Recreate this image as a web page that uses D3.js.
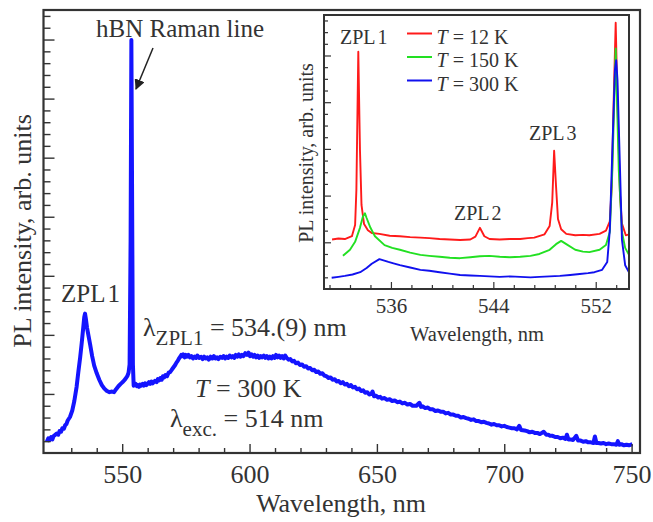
<!DOCTYPE html>
<html>
<head>
<meta charset="utf-8">
<script src="https://cdn.jsdelivr.net/npm/d3@7"></script>
<style>
  body { margin: 0; background: #fff; }
  svg text { font-family: "Liberation Serif", "Times New Roman", serif; fill: #333; }
</style>
</head>
<body>
<svg id="chart" width="653" height="522"></svg>
<script>
// main spectrum, T = 300 K, wavelength (nm) / intensity (arb.)
var mainSpectrum = [
  [520.4,0.19],[521.0,0.25],[521.5,0.22],[522.1,0.27],[522.6,0.23],[523.1,0.29],[523.5,0.30],[524.3,0.33],
  [524.9,0.31],[525.4,0.37],[526.0,0.36],[526.5,0.42],[527.1,0.41],[527.6,0.47],[528.1,0.49],[528.6,0.55],
  [529.5,0.61],[530.4,0.72],[531.2,0.88],[532.1,1.12],[532.8,1.38],[533.5,1.62],[534.1,1.86],
  [534.7,2.12],[535.1,2.30],[535.4,2.36],[535.7,2.28],[536.2,2.12],[536.8,1.98],[537.4,1.84],[538.2,1.64],
  [539.0,1.48],[540.0,1.35],[541.0,1.24],[542.0,1.15],[543.0,1.09],[544.0,1.05],[545.0,1.03],[546.0,1.04],
  [546.8,1.03],[547.6,1.08],[548.5,1.13],[549.4,1.17],[550.4,1.21],[551.2,1.25],[552.0,1.30],[552.5,1.36],
  [552.9,1.50],[553.3,3.6],[553.6,6.99],[553.9,4.2],[554.2,1.5],[554.5,1.14],[555.3,1.17],[555.8,1.13],
  [556.2,1.15],[556.6,1.12],[557.0,1.16],[557.5,1.14],[558.0,1.17],[558.5,1.14],[559.0,1.18],[559.5,1.15],
  [560.0,1.17],[560.5,1.20],[561.0,1.17],[561.5,1.21],[562.0,1.18],[562.8,1.22],[563.5,1.20],[564.0,1.25],
  [564.5,1.23],[565.0,1.27],[565.5,1.24],[566.0,1.30],[566.5,1.28],[567.0,1.32],[567.6,1.30],[568.2,1.36],
  [568.8,1.37],[569.3,1.40],[569.8,1.43],[570.3,1.46],[570.8,1.49],[571.3,1.53],[571.8,1.56],[572.3,1.60],
  [572.8,1.63],[573.2,1.66],[573.6,1.64],[574.0,1.67],[574.5,1.62],[575.0,1.66],[575.5,1.63],[576.0,1.66],
  [576.6,1.62],[577.2,1.64],[577.8,1.60],[578.4,1.63],[579.0,1.61],[579.5,1.65],[580.2,1.61],[581,1.63],
  [581.6,1.59],[582.2,1.63],[582.8,1.60],[583.4,1.62],[584,1.58],[584.7,1.63],[585.4,1.60],[586.0,1.64],
  [586.6,1.60],[587.2,1.62],[587.8,1.59],[588.5,1.63],[589.2,1.61],[589.8,1.64],[590.4,1.60],[591.0,1.63],
  [591.6,1.61],[592.2,1.65],[592.8,1.62],[593.4,1.64],[594.0,1.61],[594.6,1.66],[595.2,1.63],[595.8,1.67],
  [596.4,1.63],[597.0,1.66],[597.6,1.64],[598.3,1.69],[599.0,1.66],[599.6,1.70],[600.2,1.64],[600.8,1.67],
  [601.4,1.63],[602.0,1.66],[602.6,1.62],[603.2,1.65],[603.8,1.61],[604.4,1.64],[605.0,1.62],[605.6,1.65],
  [606.2,1.61],[606.8,1.64],[607.4,1.60],[608.0,1.63],[608.6,1.60],[609.2,1.64],[609.8,1.61],[610.4,1.66],
  [611.0,1.62],[611.6,1.65],[612.2,1.61],[612.8,1.64],[613.4,1.60],[614.0,1.65],[614.6,1.61],[615.3,1.58],
  [616.0,1.59],[616.8,1.55],[617.5,1.56],[618.2,1.52],[619.0,1.53],[619.8,1.49],[620.6,1.50],[621.4,1.46],
  [622.2,1.47],[623.0,1.43],[623.8,1.44],[624.6,1.40],[625.4,1.41],[626.2,1.37],[627.0,1.38],[627.8,1.34],
  [628.6,1.35],[629.4,1.31],[630.2,1.30],[631.0,1.27],[631.8,1.28],[632.6,1.24],[633.4,1.25],[634.2,1.21],
  [635.0,1.22],[635.8,1.18],[636.6,1.20],[637.4,1.16],[638.2,1.17],[639.0,1.13],[639.8,1.15],[640.6,1.11],
  [641.4,1.12],[642.2,1.08],[643.0,1.09],[643.8,1.05],[644.6,1.06],[645.4,1.02],[646.2,1.03],[647,0.99],
  [647.8,1.00],[648.3,1.04],[648.9,0.96],[649.7,0.97],[650.5,0.94],[651.3,0.95],[652,0.92],[653,0.93],
  [654,0.90],[655,0.91],[656,0.88],[657,0.89],[658,0.86],[659,0.87],[660,0.84],[661,0.85],[662,0.82],
  [663,0.83],[664,0.80],[665.5,0.80],[666.7,0.85],[667.3,0.78],[668,0.79],[669,0.76],[670,0.77],
  [671,0.74],[672,0.74],[673,0.71],[674,0.72],[675,0.70],[676,0.70],[677,0.67],[678,0.68],[679,0.65],
  [680,0.65],[681,0.63],[682,0.63],[683,0.60],[684,0.61],[685,0.59],[686,0.58],[687,0.56],[688,0.57],
  [689,0.54],[690,0.54],[691,0.52],[692,0.53],[693,0.51],[694,0.50],[695,0.48],[696,0.49],[697,0.47],
  [698,0.47],[699,0.45],[700,0.46],[701,0.44],[702,0.43],[703,0.42],[704,0.42],[705,0.40],[705.9,0.46],
  [706.6,0.39],[708,0.38],[709,0.37],[710,0.35],[711,0.36],[712,0.34],[713,0.34],[714,0.32],[715.5,0.36],
  [716.5,0.31],[717.3,0.31],[718,0.29],[719,0.29],[720,0.27],[721,0.27],[722,0.25],[723,0.26],[724,0.24],
  [724.6,0.31],[725.2,0.23],[726,0.23],[727,0.22],[728.3,0.29],[729,0.21],[730,0.21],[731,0.19],[732,0.20],
  [733,0.18],[734,0.18],[735,0.17],[735.6,0.28],[736.2,0.17],[737,0.17],[738,0.16],[739,0.17],[740,0.15],
  [741,0.16],[742,0.15],[743,0.15],[744,0.14],[744.6,0.20],[745.2,0.14],[746,0.15],[747,0.13],[748,0.14],
  [749,0.13],[750.3,0.15]
];

// inset spectra
var inset12K = [
  [531.4,1.06],[531.9,1.08],[532.4,1.07],[532.95,1.13],[533.2,1.37],[533.3,2.12],[533.45,5.08],[533.58,2.98],
  [533.7,1.80],[533.9,1.39],[534.2,1.26],[534.5,1.20],[535.1,1.18],[535.9,1.14],[536.7,1.13],[537.5,1.11],
  [538.3,1.10],[539.0,1.09],[539.8,1.07],[540.6,1.06],[541.4,1.05],[542.2,1.06],[542.6,1.12],[542.95,1.31],
  [543.3,1.13],[543.7,1.07],[544.5,1.06],[545.3,1.07],[546.1,1.07],[546.7,1.09],[547.2,1.10],[548.0,1.17],
  [548.4,1.35],[548.6,1.85],[548.75,2.96],[548.9,2.2],[549.05,1.5],[549.3,1.28],[549.7,1.18],[550.4,1.15],
  [551.0,1.16],[551.5,1.15],[552.3,1.18],[552.8,1.25],[553.1,1.45],[553.25,2.2],[553.4,4.0],[553.56,5.70],
  [553.7,4.0],[553.9,2.0],[554.05,1.4],[554.35,1.15],[554.6,1.17]
];
var inset150K = [
  [532.25,0.71],[532.8,0.84],[533.2,1.01],[533.58,1.31],[533.8,1.54],[533.97,1.62],[534.1,1.52],[534.4,1.31],
  [534.75,1.13],[535.5,0.94],[536.1,0.88],[536.7,0.84],[537.5,0.78],[538.3,0.73],[539.0,0.71],[539.8,0.69],
  [540.6,0.67],[541.4,0.66],[542.2,0.68],[542.95,0.70],[543.7,0.71],[544.5,0.69],[545.3,0.68],[546.1,0.69],
  [546.9,0.71],[547.6,0.75],[548.4,0.84],[548.9,0.96],[549.3,1.03],[549.7,0.96],[550.4,0.84],[551.0,0.80],
  [551.5,0.79],[552.3,0.84],[552.8,0.94],[553.1,1.22],[553.3,2.55],[553.56,5.15],[553.8,2.55],[554.05,1.22],
  [554.3,0.88],[554.6,0.73]
];
var inset300K = [
  [531.37,0.24],[531.9,0.26],[532.4,0.28],[533.0,0.31],[533.6,0.36],[534.1,0.45],[534.5,0.54],[535.1,0.64],
  [535.8,0.58],[536.2,0.55],[536.7,0.51],[537.5,0.46],[538.3,0.41],[539.0,0.39],[539.8,0.36],[540.6,0.33],
  [541.4,0.30],[542.2,0.29],[542.95,0.28],[543.7,0.27],[544.5,0.26],[545.3,0.27],[546.1,0.26],[546.9,0.25],
  [547.6,0.26],[548.4,0.27],[549.2,0.28],[550.0,0.30],[550.75,0.32],[551.4,0.34],[551.9,0.36],[552.5,0.41],
  [552.9,0.58],[553.1,1.26],[553.3,2.98],[553.5,4.69],[553.6,4.90],[553.7,4.48],[553.9,2.55],[554.05,1.05],
  [554.3,0.51],[554.6,0.36]
];

var legendLabels = [" = 12 K", " = 150 K", " = 300 K"];
var legendColors = ["#ff1a1a", "#22e022", "#1010ee"];

var mainXTicks = [550, 600, 650, 700, 750];
var insetXTicks = [536, 544, 552];

var svg = d3.select("#chart");

// ---------- main plot ----------
var x = d3.scaleLinear().domain([519.1, 753.3]).range([43.5, 640]);
var y = d3.scaleLinear().domain([0, 7.5]).range([453, 10]);

svg.append("clipPath").attr("id", "mainClip")
    .append("rect").attr("x", 43.5).attr("y", 10).attr("width", 596.5).attr("height", 443);

svg.append("path")
    .datum(mainSpectrum)
    .attr("clip-path", "url(#mainClip)")
    .attr("fill", "none")
    .attr("stroke", "#1414ff")
    .attr("stroke-width", 4)
    .attr("stroke-linejoin", "round")
    .attr("d", d3.line().x(d => x(d[0])).y(d => y(d[1])));

// x axis, minor then major ticks (inward)
var minorX = d3.range(530, 751, 10).filter(v => v % 50 != 0);
svg.append("g").attr("transform", "translate(0,453)")
    .call(d3.axisBottom(x).tickValues(minorX).tickSize(-5).tickFormat(""))
    .call(g => g.select(".domain").remove());
svg.append("g").attr("transform", "translate(0,453)")
    .call(d3.axisBottom(x).tickValues(mainXTicks).tickSize(-9).tickPadding(11.5).tickFormat(d3.format("d")))
    .call(g => g.select(".domain").remove())
    .call(g => g.selectAll("text").style("font-size", "26px").attr("fill", "#333"));

// y axis, no labels
var minorY = d3.range(1, 38).map(i => i * 0.2).filter(v => Math.abs(v - Math.round(v)) > 0.01);
svg.append("g").attr("transform", "translate(43.5,0)")
    .call(d3.axisLeft(y).tickValues(minorY).tickSize(-7).tickFormat(""))
    .call(g => g.select(".domain").remove());
svg.append("g").attr("transform", "translate(43.5,0)")
    .call(d3.axisLeft(y).tickValues([1, 2, 3, 4, 5, 6, 7]).tickSize(-11).tickFormat(""))
    .call(g => g.select(".domain").remove());
svg.selectAll(".tick line").attr("stroke", "#333").attr("stroke-width", 1.4);

svg.append("rect")
    .attr("x", 43.5).attr("y", 10).attr("width", 596.5).attr("height", 443)
    .attr("fill", "none").attr("stroke", "#333").attr("stroke-width", 2.2);

// main labels
svg.append("text").attr("x", 341).attr("y", 512).attr("text-anchor", "middle")
    .style("font-size", "26px").text("Wavelength, nm");
svg.append("text").attr("transform", "translate(31,231) rotate(-90)").attr("text-anchor", "middle")
    .style("font-size", "26px").text("PL intensity, arb. units");

svg.append("text").attr("x", 96).attr("y", 37).style("font-size", "25px").text("hBN Raman line");
svg.append("defs").append("marker")
    .attr("id", "arrow").attr("viewBox", "0 0 10 10").attr("refX", 9).attr("refY", 5)
    .attr("markerWidth", 7).attr("markerHeight", 7).attr("orient", "auto")
    .append("path").attr("d", "M0,0 L10,5 L0,10 Z").attr("fill", "#222");
svg.append("line").attr("x1", 153).attr("y1", 48).attr("x2", 136).attr("y2", 89)
    .attr("stroke", "#222").attr("stroke-width", 1.5).attr("marker-end", "url(#arrow)");

var zpl = svg.append("text").attr("x", 61).attr("y", 301.5).style("font-size", "25px");
zpl.append("tspan").text("ZPL");
zpl.append("tspan").attr("dx", 2).text("1");

var lz = svg.append("text").attr("x", 143).attr("y", 336).style("font-size", "26px");
lz.append("tspan").text("λ");
lz.append("tspan").attr("dy", 9).style("font-size", "21px").text("ZPL1");
lz.append("tspan").attr("dy", -9).text(" = 534.(9) nm");

var tt = svg.append("text").attr("x", 195).attr("y", 397).style("font-size", "26px");
tt.append("tspan").style("font-style", "italic").text("T");
tt.append("tspan").text(" = 300 K");

var le = svg.append("text").attr("x", 170).attr("y", 427).style("font-size", "26px");
le.append("tspan").text("λ");
le.append("tspan").attr("dy", 9).style("font-size", "21px").text("exc.");
le.append("tspan").attr("dy", -9).text(" = 514 nm");

// ---------- inset ----------
var ix = d3.scaleLinear().domain([530.77, 554.6]).range([324, 629]);
var iy = d3.scaleLinear().domain([0, 5.867]).range([289, 15]);

svg.append("rect").attr("x", 324).attr("y", 15).attr("width", 305).attr("height", 274).attr("fill", "#fff");
svg.append("clipPath").attr("id", "insetClip")
    .append("rect").attr("x", 324).attr("y", 15).attr("width", 305).attr("height", 274);

var insetSeries = [inset12K, inset150K, inset300K];
var iline = d3.line().x(d => ix(d[0])).y(d => iy(d[1]));
svg.append("g").attr("clip-path", "url(#insetClip)")
    .selectAll("path")
    .data(insetSeries)
    .enter()
    .append("path")
    .attr("fill", "none")
    .attr("stroke", (d, i) => legendColors[i])
    .attr("stroke-width", 1.9)
    .attr("stroke-linejoin", "round")
    .attr("d", iline);

var insetMinorX = d3.range(-3, 12).map(k => Math.round((536 + k * 1.6) * 10) / 10).filter(v => insetXTicks.indexOf(v) < 0);
var ig1 = svg.append("g").attr("transform", "translate(0,289)")
    .call(d3.axisBottom(ix).tickValues(insetMinorX).tickSize(-4).tickFormat(""));
var ig2 = svg.append("g").attr("transform", "translate(0,289)")
    .call(d3.axisBottom(ix).tickValues(insetXTicks).tickSize(-7).tickPadding(9).tickFormat(d3.format("d")));
ig2.selectAll("text").style("font-size", "21px").attr("fill", "#333");
var iyMinor = d3.range(1, 24).map(i => i * 0.25).filter(v => v % 1 != 0);
var ig3 = svg.append("g").attr("transform", "translate(324,0)")
    .call(d3.axisLeft(iy).tickValues(iyMinor).tickSize(-4).tickFormat(""));
var ig4 = svg.append("g").attr("transform", "translate(324,0)")
    .call(d3.axisLeft(iy).tickValues([1, 2, 3, 4, 5]).tickSize(-7).tickFormat(""));
[ig1, ig2, ig3, ig4].forEach(g => {
    g.select(".domain").remove();
    g.selectAll(".tick line").attr("stroke", "#333").attr("stroke-width", 1.2);
});

svg.append("rect").attr("x", 324).attr("y", 15).attr("width", 305).attr("height", 274)
    .attr("fill", "none").attr("stroke", "#333").attr("stroke-width", 2);

svg.append("text").attr("x", 477).attr("y", 341).attr("text-anchor", "middle")
    .style("font-size", "20.5px").text("Wavelength, nm");
svg.append("text").attr("transform", "translate(313,153) rotate(-90)").attr("text-anchor", "middle")
    .style("font-size", "20px").text("PL intensity, arb. units");

// ZPL labels in inset
var zplLabels = [["1", 340, 43.5], ["3", 529, 140], ["2", 454, 220]];
zplLabels.forEach(z => {
    var t = svg.append("text").attr("x", z[1]).attr("y", z[2]).style("font-size", "20px");
    t.append("tspan").text("ZPL");
    t.append("tspan").attr("dx", 2).text(z[0]);
});

// legend
var lg = svg.append("g");
legendLabels.forEach((lab, i) => {
    var by = 43.5 + i * 23.5;
    lg.append("line").attr("x1", 407).attr("x2", 432).attr("y1", by - 10).attr("y2", by - 10)
        .attr("stroke", legendColors[i]).attr("stroke-width", 2);
    var t = lg.append("text").attr("x", 436.5).attr("y", by).style("font-size", "20px");
    t.append("tspan").style("font-style", "italic").text("T");
    t.append("tspan").text(lab);
});
</script>
</body>
</html>
